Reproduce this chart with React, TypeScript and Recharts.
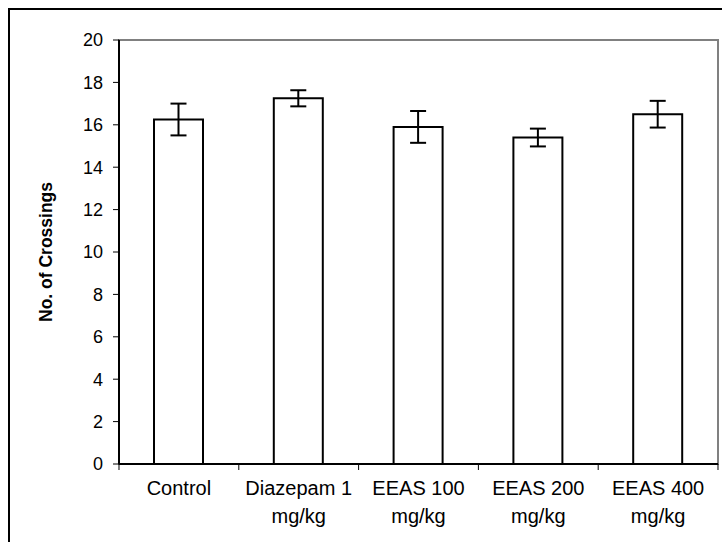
import { BarChart, Bar, XAxis, YAxis, ErrorBar, ReferenceArea, Label } from "recharts";

const categories = ["Control", "Diazepam 1 mg/kg", "EEAS 100 mg/kg", "EEAS 200 mg/kg", "EEAS 400 mg/kg"];
const tickLines = [["Control"], ["Diazepam 1", "mg/kg"], ["EEAS 100", "mg/kg"], ["EEAS 200", "mg/kg"], ["EEAS 400", "mg/kg"]];
const crossings = [16.25, 17.25, 15.9, 15.4, 16.5];
const sem = [0.75, 0.38, 0.75, 0.42, 0.63];
const yTicks = [0, 2, 4, 6, 8, 10, 12, 14, 16, 18, 20];

const data = categories.map((name, i) => ({ name, value: crossings[i], err: sem[i] }));

const FONT = "'Liberation Sans', Arial, sans-serif";

// category labels, plus Excel-style tick marks between categories
const CategoryTick = (props: any) => {
  const { x, y, index, width, visibleTicksCount } = props;
  const lines = tickLines[index] || [];
  const band = width / (visibleTicksCount || categories.length);
  const last = index === categories.length - 1;
  return (
    <g transform={`translate(${x},${y})`}>
      <line x1={-band / 2} y1={0} x2={-band / 2} y2={6} stroke="#000" strokeWidth={1} />
      {last && <line x1={band / 2} y1={0} x2={band / 2} y2={6} stroke="#000" strokeWidth={1} />}
      {lines.map((t, i) => (
        <text key={i} x={0} y={24 + i * 28} textAnchor="middle" dominantBaseline="central"
          fontFamily={FONT} fontSize={20} fill="#000">
          {t}
        </text>
      ))}
    </g>
  );
};

const YTitle = (props: any) => {
  const { viewBox } = props;
  const x = viewBox.x + 38;
  const y = viewBox.y + viewBox.height / 2;
  return (
    <text x={x} y={y} transform={`rotate(-90, ${x}, ${y})`} textAnchor="middle" dominantBaseline="central"
      fontFamily={FONT} fontSize={17.5} fontWeight="bold" fill="#000">
      No. of Crossings
    </text>
  );
};

export default function App() {
  return (
    <div style={{ position: "absolute", left: 8, top: 8, width: 714, height: 534, overflow: "hidden" }}>
      <div style={{ position: "absolute", left: 0, top: 0, width: 714, height: 534, borderLeft: "2px solid #000", borderTop: "2px solid #000", boxSizing: "border-box" }} />
      <BarChart width={714} height={534} data={data} margin={{ top: 32, right: 4, left: 0, bottom: 8 }}>
        {/* grey plot-area frame (top and right edges) */}
        <ReferenceArea x1={categories[0]} x2={categories[categories.length - 1]} y1={0} y2={20}
          fill="none" stroke="#808080" strokeWidth={2} ifOverflow="visible" />
        <XAxis dataKey="name" height={70} tick={<CategoryTick />} tickLine={false} tickSize={0} tickMargin={0}
          interval={0} axisLine={{ stroke: "#000", strokeWidth: 2 }} />
        <YAxis domain={[0, 20]} ticks={yTicks} width={111} tickSize={6} tickMargin={10}
          axisLine={{ stroke: "#000", strokeWidth: 2 }} tickLine={{ stroke: "#000", strokeWidth: 1 }}
          tick={{ fill: "#000", fontSize: 18, fontFamily: FONT }}>
          <Label content={<YTitle />} />
        </YAxis>
        <Bar dataKey="value" fill="#fff" stroke="#000" strokeWidth={2} barSize={49} isAnimationActive={false}>
          <ErrorBar dataKey="err" direction="y" width={8} stroke="#000" strokeWidth={2} />
        </Bar>
      </BarChart>
    </div>
  );
}
